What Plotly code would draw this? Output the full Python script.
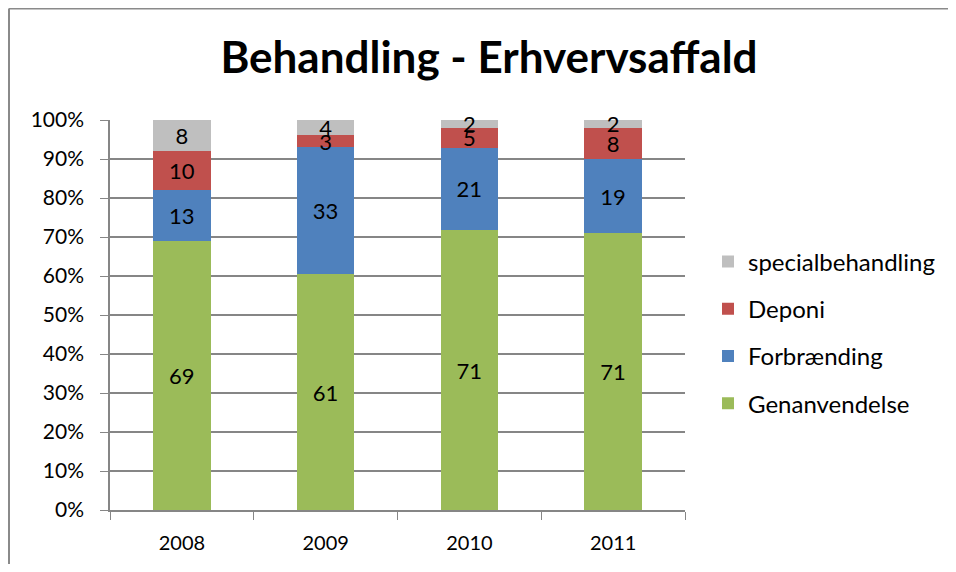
import plotly.graph_objects as go

years = ["2008", "2009", "2010", "2011"]
genanvendelse = [69, 61, 71, 71]
forbraending = [13, 33, 21, 19]
deponi = [10, 3, 5, 8]
special = [8, 4, 2, 2]
y_ticks = [0, 10, 20, 30, 40, 50, 60, 70, 80, 90, 100]
y_labels = [f"{v}%" for v in y_ticks]

FONT = "Lato, 'Liberation Sans', sans-serif"
series = [
    ("Genanvendelse", genanvendelse, "#9BBB59", 4),
    ("Forbrænding", forbraending, "#4F81BD", 3),
    ("Deponi", deponi, "#C0504D", 2),
    ("specialbehandling", special, "#BFBFBF", 1),
]

fig = go.Figure()
for name, vals, col, rank in series:
    fig.add_trace(go.Bar(
        x=years, y=vals, name=name, legendgroup=name, legendrank=rank,
        marker=dict(color=col, line=dict(width=0)),
        text=[str(v) for v in vals], textposition="inside", textangle=0,
        insidetextanchor="middle", constraintext="none", cliponaxis=False,
        textfont=dict(color="black", size=22, family=FONT),
        width=0.40,
    ))

# page has an 8px body margin, so figure coords = screenshot coords - 8
W, H = 940, 556
L, R, T = 102, 940 - 677, 112
B = H - 502
pw, ph = W - L - R, H - T - B

fig.update_layout(
    width=W, height=H,
    margin=dict(l=L, r=R, t=T, b=B, autoexpand=False),
    barmode="stack", barnorm="percent",
    paper_bgcolor="white", plot_bgcolor="white",
    font=dict(family=FONT, color="black", size=18),
    title=dict(text="<b>Behandling - Erhvervsaffald</b>", x=481 / W, xanchor="center",
               y=1 - 50 / H, yanchor="middle", font=dict(size=44, family=FONT, color="black")),
    legend=dict(x=1 + (700 - (W - R)) / pw, xanchor="left",
                y=1 - (324.5 - T) / ph, yanchor="middle",
                traceorder="grouped", tracegroupgap=13,
                font=dict(size=24, family=FONT, color="black"),
                itemwidth=30),
    showlegend=True,
)
fig.update_xaxes(
    showline=True, linecolor="#868686", linewidth=1.5, automargin=False,
    ticks="outside", ticklen=8, tickcolor="#868686", tickson="boundaries",
    tickfont=dict(size=20), showgrid=False, ticklabelstandoff=14,
)
fig.update_yaxes(
    range=[0, 100], tickvals=y_ticks, ticktext=y_labels, automargin=False,
    showline=True, linecolor="#868686", linewidth=1.5,
    ticks="outside", ticklen=8, tickcolor="#868686",
    showgrid=True, gridcolor="#868686", gridwidth=1.5,
    tickfont=dict(size=21), zeroline=False, ticklabelstandoff=12,
)
# outer chart border (top and left visible)
x0 = (1 - L) / pw
y0 = 1 + (T - 0.5) / ph
fig.add_shape(type="line", xref="paper", yref="paper", x0=x0, x1=(W - L) / pw,
              y0=y0, y1=y0, line=dict(color="#8a8a8a", width=2))
fig.add_shape(type="line", xref="paper", yref="paper", x0=x0, x1=x0,
              y0=y0, y1=-B / ph, line=dict(color="#8a8a8a", width=2))

fig.write_html("out.html")
